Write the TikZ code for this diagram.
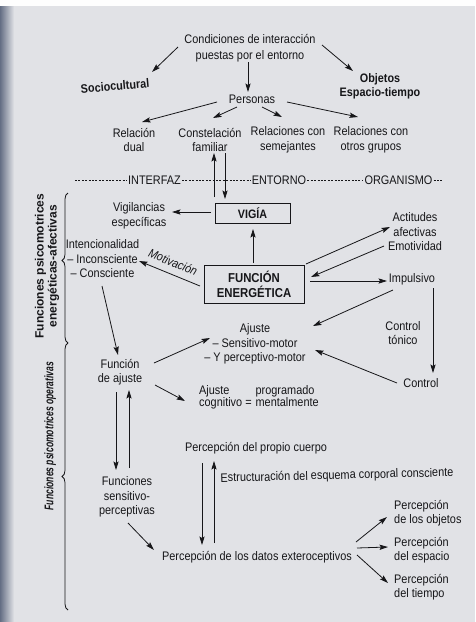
\documentclass[tikz,border=0pt]{standalone}
\usepackage{fontspec}
\setmainfont{Liberation Sans}[FakeStretch=0.88]
\newfontfamily\labfont{Liberation Sans}[FakeStretch=1.0]
\newfontfamily\narrowfont{Liberation Sans}[FakeStretch=0.68]
\usetikzlibrary{arrows.meta,decorations.pathreplacing}
\definecolor{page}{RGB}{225,226,230}
\definecolor{ink}{RGB}{22,22,25}
\definecolor{gutter}{RGB}{100,110,132}

\begin{document}
\begin{tikzpicture}[x=1pt,y=-1pt,
  every node/.style={text=ink, inner sep=1pt, align=center,
    font=\fontsize{12.4}{14.5}\selectfont},
  heavy/.style={font=\fontsize{12.3}{14}\selectfont\bfseries},
  boxed/.style={draw=ink, line width=0.9pt, inner sep=0pt},
  leftlist/.style={anchor=west, align=left},
  arr/.style={draw=ink, line width=0.8pt,
    -{Stealth[length=8.5pt,width=5.2pt,inset=1.5pt]}},
  dashline/.style={draw=ink, line width=0.6pt, dash pattern=on 2pt off 1.4pt},
  bracestyle/.style={draw=ink, line width=0.8pt, decorate,
    decoration={brace, amplitude=6pt}},
]
% page
\fill[page] (0,0) rectangle (475,622);
\fill[white!96!page] (0,0) rectangle (475,6);
\shade[left color=gutter, right color=page] (0,6) rectangle (14,622);
\useasboundingbox (0,0) rectangle (475,622);

% environment
\node[font=\fontsize{12.4}{16}\selectfont] (cond) at (250,48)
  {Condiciones de interacción\\puestas por el entorno};
\node[heavy, rotate=5] (socio) at (115,86) {Sociocultural};
\node[heavy] (obj) at (380,86) {Objetos\\Espacio-tiempo};
\node (pers) at (252,99) {Personas};
\node (dual) at (134,140) {Relación\\dual};
\node (const) at (210,140) {Constelación\\familiar};
\node (semej) at (288,140) {Relaciones con\\semejantes};
\node (otros) at (371,140) {Relaciones con\\otros grupos};

\draw[arr] ([shift={(-72,-1)}]cond.center) -- ([shift={(37,-14)}]socio.center);
\draw[arr] ([shift={(72,-3)}]cond.center) -- ([shift={(-27,-15)}]obj.center);
\draw[arr] ([shift={(-2,14)}]cond.center) -- ([shift={(-4,-7)}]pers.center);
\draw[arr] ([shift={(-35,3)}]pers.center) -- ([shift={(8,-18)}]dual.center);
\draw[arr] ([shift={(-15,8)}]pers.center) -- ([shift={(3,-22)}]const.center);
\draw[arr] ([shift={(10,8)}]pers.center) -- ([shift={(-6,-23)}]semej.center);
\draw[arr] ([shift={(35,3)}]pers.center) -- ([shift={(-13,-23)}]otros.center);

% interface line
\node (interfaz) at (154.5,180) {INTERFAZ};
\node (entorno) at (279,180) {ENTORNO};
\node (organismo) at (398.5,180) {ORGANISMO};
\coordinate (dl) at (75,180);
\coordinate (dr) at (443,180);
\draw[dashline] (dl) -- (interfaz.west);
\draw[dashline] (interfaz.east) -- (entorno.west);
\draw[dashline] (entorno.east) -- (organismo.west);
\draw[dashline] (organismo.east) -- (dr);

% energetic functions
\node[boxed, minimum width=75, minimum height=20,
  font=\fontsize{12.2}{14}\selectfont\bfseries] (vigia) at (252.5,213) {VIGÍA};
\node[boxed, minimum width=100, minimum height=38,
  font=\fontsize{12.9}{15}\selectfont\bfseries] (fe) at (254,284)
  {FUNCIÓN\\ENERGÉTICA};
\node (vigil) at (139,216) {Vigilancias\\específicas};
\node (intenc) at (102.5,259) {Intencionalidad\\– Inconsciente\\– Consciente};
\node (actit) at (415,232) {Actitudes\\afectivas\\Emotividad};
\node (impuls) at (412,279) {Impulsivo};
\node (ctrlton) at (403,333) {Control\\tónico};
\node (control) at (421,383) {Control};

\draw[arr] ([shift={(-38.5,-16)}]vigia.center) -- ([shift={(4,13)}]const.center);
\draw[arr] ([shift={(15,13)}]const.center) -- ([shift={(-27.5,-14)}]vigia.center);
\draw[arr] ([shift={(-1,-21)}]fe.center) -- ([shift={(0.5,16)}]vigia.center);
\draw[arr] ([shift={(-41.5,-1)}]vigia.center) -- ([shift={(33,-4)}]vigil.center);
\draw[arr] ([shift={(-54,2)}]fe.center) -- ([shift={(36.5,2)}]intenc.center);
\node[rotate=-22, inner sep=0pt, font=\fontsize{12.2}{14}\selectfont\itshape] (motiv) at (173,262) {Motivación};
\draw[arr] ([shift={(52,-20)}]fe.center) -- ([shift={(-25,-5)}]actit.center);
\draw[arr] ([shift={(-31,14)}]actit.center) -- ([shift={(57,-7)}]fe.center);
\draw[arr] ([shift={(56,-3)}]fe.center) -- ([shift={(-25,2)}]impuls.center);

% operative functions
\node (ajuste) at (255,344) {Ajuste\\– Sensitivo-motor\\– Y perceptivo-motor};
\node (fajuste) at (120,372) {Función\\de ajuste};
\node[anchor=west] (cogn) at (198,398)
  {\def\arraystretch{0.85}\begin{tabular}{@{}l@{\hspace{4pt}}l@{}}
   Ajuste & programado\\ cognitivo = & mentalmente\end{tabular}};
\node (fsens) at (127,497) {Funciones\\sensitivo-\\perceptivas};
\node (propio) at (256,448) {Percepción del propio cuerpo};
\node[rotate=1.4] (estruct) at (337,476) {Estructuración del esquema corporal consciente};
\node (datos) at (257,557) {Percepción de los datos exteroceptivos};
\node[leftlist] (pobj) at (393,513) {Percepción\\de los objetos};
\node[leftlist] (pesp) at (393,550) {Percepción\\del espacio};
\node[leftlist] (ptiem) at (393,587) {Percepción\\del tiempo};

\draw[arr] ([shift={(-19,11)}]impuls.center) -- ([shift={(58,-18)}]ajuste.center);
\draw[arr] ([shift={(21,9)}]impuls.center) -- ([shift={(12,-10)}]control.center);
\draw[arr] ([shift={(-24,0)}]control.center) -- ([shift={(60,6)}]ajuste.center);
\draw[arr] ([shift={(-0.5,27)}]intenc.center) -- ([shift={(-2,-17)}]fajuste.center);
\draw[arr] ([shift={(34,-9)}]fajuste.center) -- ([shift={(-45,-6)}]ajuste.center);
\draw[arr] ([shift={(35,13)}]fajuste.center) -- ([shift={(-13,3)}]cogn.west);
\draw[arr] ([shift={(-4,20)}]fajuste.center) -- ([shift={(-11,-27)}]fsens.center);
\draw[arr] ([shift={(2,-29)}]fsens.center) -- ([shift={(9,18)}]fajuste.center);
\draw[arr] ([shift={(1,26)}]fsens.center) -- ([shift={(-103,-7)}]datos.center);
\draw[arr] ([shift={(-54,15)}]propio.center) -- ([shift={(-55,-12)}]datos.center);
\draw[arr] ([shift={(-43,-14)}]datos.center) -- ([shift={(-42,13)}]propio.center);
\draw[arr] ([shift={(99,-15)}]datos.center) -- ([shift={(-6,4)}]pobj.west);
\draw[arr] ([shift={(100,-9)}]datos.center) -- ([shift={(-5,-3)}]pesp.west);
\draw[arr] ([shift={(100,-2)}]datos.center) -- ([shift={(-5,-4)}]ptiem.west);

% side braces and labels
\coordinate (bt) at (68,193);
\coordinate (bm) at (68,343);
\coordinate (bb) at (68,610);
\draw[bracestyle, decoration={aspect=0.55}] (bm) -- (bt);
\draw[bracestyle] (bb) -- (bm);
\node[rotate=90, font=\labfont\fontsize{12}{13}\selectfont\bfseries] (lab1) at (47,266)
  {Funciones psicomotrices\\energéticas-afectivas};
\node[rotate=90, font=\narrowfont\fontsize{12.6}{13}\selectfont\bfseries\itshape] (lab2) at (50,436)
  {Funciones psicomotrices operativas};
\end{tikzpicture}
\end{document}
